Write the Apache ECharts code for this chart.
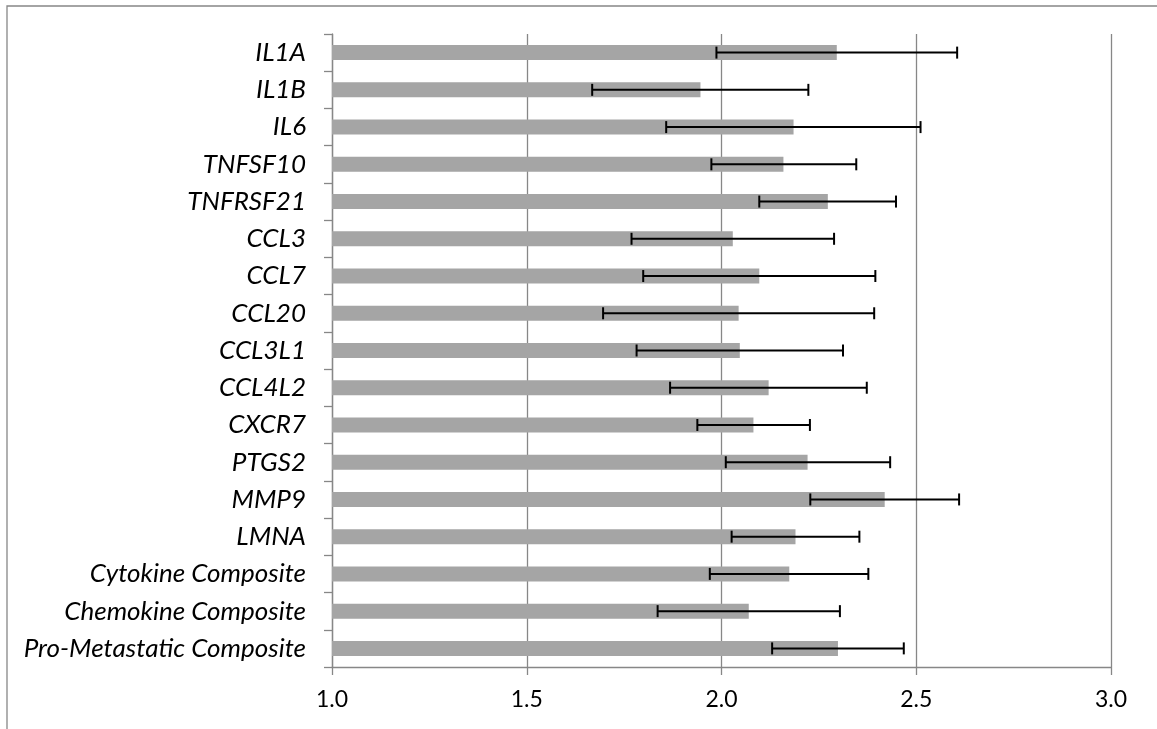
<!DOCTYPE html>
<html>
<head>
<meta charset="utf-8">
<script src="https://cdn.jsdelivr.net/npm/echarts@6/dist/echarts.min.js"></script>
<style>
html,body{margin:0;padding:0;background:#fff;}
#chart{width:1157px;height:729px;}
</style>
</head>
<body>
<div id="chart"></div>
<script>
var categories = ["IL1A","IL1B","IL6","TNFSF10","TNFRSF21","CCL3","CCL7","CCL20","CCL3L1","CCL4L2","CXCR7","PTGS2","MMP9","LMNA","Cytokine Composite","Chemokine Composite","Pro-Metastatic Composite"];
var values   = [2.296,1.946,2.185,2.159,2.273,2.029,2.097,2.044,2.047,2.121,2.082,2.221,2.419,2.190,2.174,2.070,2.299];
var errLow   = [1.987,1.668,1.858,1.974,2.097,1.769,1.799,1.696,1.782,1.868,1.938,2.011,2.228,2.026,1.970,1.836,2.130];
var errHigh  = [2.605,2.223,2.511,2.346,2.448,2.289,2.395,2.392,2.312,2.373,2.227,2.433,2.610,2.354,2.377,2.304,2.468];
var xTicks   = [1.0,1.5,2.0,2.5,3.0];

var errData = categories.map(function(c,i){ return [i, errLow[i], errHigh[i]]; });

var chart = echarts.init(document.getElementById('chart'));
var gray = '#878787';
var fontFamily = 'Lato, "Open Sans", sans-serif';
chart.setOption({
  animation:false,
  backgroundColor:'#fff',
  graphic:[{type:'rect', shape:{x:7,y:6,width:3000,height:3000}, style:{fill:'none', stroke:gray, lineWidth:1.3}, silent:true, z:-1}],
  grid:{left:332, right:46, top:34, bottom:62, containLabel:false},
  xAxis:{
    type:'value', min:xTicks[0], max:xTicks[xTicks.length-1], interval:0.5,
    axisLine:{show:true, lineStyle:{color:gray, width:1.3}},
    axisTick:{show:true, length:8, lineStyle:{color:gray, width:1.3}},
    splitLine:{show:true, lineStyle:{color:gray, width:1.3}},
    axisLabel:{color:'#000', fontSize:23, fontFamily:fontFamily, margin:21,
      formatter:function(v){ return v.toFixed(1); }}
  },
  yAxis:{
    type:'category', data:categories, inverse:true,
    axisLine:{show:true, lineStyle:{color:gray, width:1.3}},
    axisTick:{show:true, length:8, lineStyle:{color:gray, width:1.3}},
    axisLabel:{color:'#000', fontSize:26, fontStyle:'italic', fontFamily:fontFamily, margin:26}
  },
  series:[
    {type:'bar', data:values, barWidth:15, itemStyle:{color:'#a5a5a5'}, z:2},
    {type:'custom', data:errData, z:3,
      encode:{y:0, x:[1,2]},
      renderItem:function(params, api){
        var y = api.value(0);
        var p1 = api.coord([api.value(1), y]);
        var p2 = api.coord([api.value(2), y]);
        var h = 6;
        var st = {stroke:'#000', lineWidth:2};
        return {type:'group', children:[
          {type:'line', shape:{x1:p1[0],y1:p1[1],x2:p2[0],y2:p2[1]}, style:st},
          {type:'line', shape:{x1:p1[0],y1:p1[1]-h,x2:p1[0],y2:p1[1]+h}, style:st},
          {type:'line', shape:{x1:p2[0],y1:p2[1]-h,x2:p2[0],y2:p2[1]+h}, style:st}
        ]};
      }
    }
  ]
});
</script>
</body>
</html>
